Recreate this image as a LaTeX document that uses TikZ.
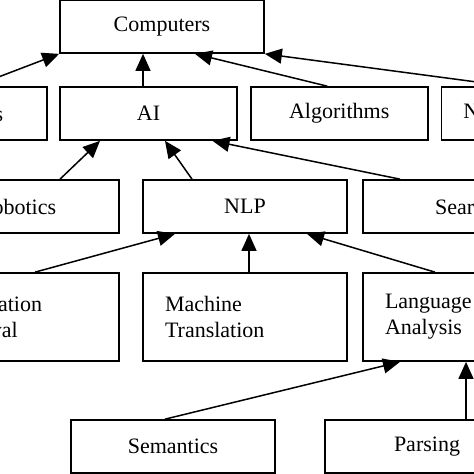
\documentclass[tikz,border=0pt]{standalone}
\usepackage{fontspec}
\setmainfont{Liberation Serif}
\usetikzlibrary{arrows.meta,positioning}

\begin{document}
\begin{tikzpicture}[x=1pt,y=-1pt,
    box/.style={draw, rectangle, line width=1.7pt, minimum width=204pt, minimum height=53pt,
                font=\fontsize{22}{26}\selectfont},
    topic/.style={box, minimum width=177pt},
    twoline/.style={box, minimum height=88pt, text width=160pt, inner xsep=22pt, align=left},
    link/.style={line width=1.5pt, -{Triangle[length=17pt,width=15pt]}}]
   \useasboundingbox (0,0) rectangle (474,474);
   \clip (0,0) rectangle (474,474);
   % top
   \node[box] (comp) at (162,26.5) {Computers};
   % second row
   \node[topic] (db)  at (-41.5,113.5) {Databases};
   \node[topic] (ai)  at (148.5,113.5) {AI};
   \node[topic] (alg) [right=12pt of ai] {Algorithms};
   \node[topic, text width=133pt, inner xsep=22pt, align=left] (net) [right=12pt of alg] {Networking};
   % third row
   \node[box] (rob) at (17,206.5) {Robotics};
   \node[box] (nlp) at (245,206.5) {NLP};
   \node[box] (srch) at (465,206.5) {Search};
   % fourth row
   \node[twoline] (ir) at (17,317) {Information\\Retrieval};
   \node[twoline] (mt) at (245,317) {Machine\\Translation};
   \node[twoline] (la) at (465,317) {Language\\Analysis};
   % bottom
   \node[box] (sem) at (173,446.5) {Semantics};
   \node[box] (pars) at (427,446.5) {Parsing};

   \path[link]
    ([xshift=16pt]db.north)   edge (comp.south west)
    ([xshift=-5.5pt]ai.north) edge ([xshift=-19pt]comp.south)
    ([xshift=-12pt]alg.north) edge ([xshift=33pt]comp.south)
    ([xshift=-22pt]net.north) edge (comp.south east)
    ([xshift=43pt]rob.north)  edge ([xshift=-48.5pt]ai.south)
    ([xshift=-53pt]nlp.north) edge ([xshift=16.5pt]ai.south)
    ([xshift=-65pt]srch.north) edge ([xshift=64pt]ai.south)
    ([xshift=18pt]ir.north)   edge ([xshift=-70pt]nlp.south)
    ([xshift=4pt]mt.north)    edge ([xshift=4pt]nlp.south)
    ([xshift=-30pt]la.north)  edge ([xshift=62pt]nlp.south)
    ([xshift=-8pt]sem.north)  edge ([xshift=-65pt]la.south)
    ([xshift=39pt]pars.north) edge ([xshift=1pt]la.south);
\end{tikzpicture}
\end{document}
